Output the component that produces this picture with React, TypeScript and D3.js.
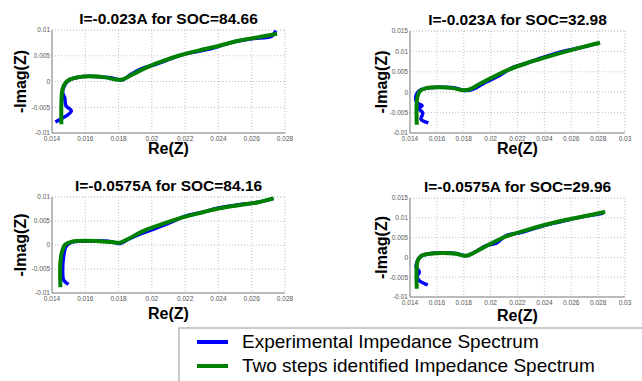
import { useEffect, useRef } from "react";
import * as d3 from "d3";

// Nyquist data: [Re(Z), -Imag(Z)]
const exp1 = [
  [0.0143, -0.0077], [0.01516, -0.0057], [0.01484, -0.0047], [0.01476, -0.0031], [0.01464, -0.0021],
  [0.0148, -0.0005], [0.0151, 0.0004], [0.0156, 0.00085], [0.0162, 0.001], [0.017, 0.00085],
  [0.0176, 0.0007], [0.0182, 0.0003], [0.0188, 0.0015], [0.0194, 0.0025], [0.0202, 0.0033],
  [0.0212, 0.0045], [0.0222, 0.0055], [0.0236, 0.0064], [0.0248, 0.0076], [0.026, 0.0083],
  [0.0272, 0.0088], [0.0274, 0.0096],
];
const fit1 = [
  [0.01456, -0.0079], [0.0146, -0.0021], [0.0147, -0.0008], [0.015, 0.0003], [0.0156, 0.00085],
  [0.0164, 0.001], [0.0172, 0.0008], [0.0178, 0.0004], [0.01824, 0.0004], [0.0188, 0.0013],
  [0.0196, 0.0026], [0.0206, 0.0039], [0.0216, 0.005], [0.0228, 0.006], [0.024, 0.0069],
  [0.0252, 0.0079], [0.0264, 0.0086], [0.0274, 0.0092],
];
const exp2 = [
  [0.01524, -0.0074], [0.01482, -0.0066], [0.01495, -0.0051], [0.01465, -0.0039], [0.0149, -0.0033],
  [0.0145, -0.0025], [0.01445, -0.0008], [0.0147, 0.0004], [0.01544, 0.0011], [0.01644, 0.0012],
  [0.01743, 0.001], [0.01805, 0.0004], [0.01868, 0.0007], [0.01967, 0.0025], [0.02067, 0.0041],
  [0.02166, 0.0061], [0.02266, 0.0071], [0.0239, 0.0085], [0.02514, 0.0098], [0.02664, 0.0109],
  [0.02788, 0.0119],
];
const fit2 = [
  [0.0145, -0.0075], [0.01455, -0.0012], [0.01475, 0.0003], [0.0152, 0.001], [0.01619, 0.0012],
  [0.01718, 0.001], [0.01793, 0.0005], [0.01843, 0.0007], [0.01917, 0.002], [0.02017, 0.0037],
  [0.02141, 0.0056], [0.02266, 0.0071], [0.02415, 0.0086], [0.02564, 0.01], [0.02689, 0.0111],
  [0.028, 0.012],
];
const exp3 = [
  [0.0149, -0.008], [0.0147, -0.0073], [0.01464, -0.0052], [0.0147, -0.0024], [0.01484, -0.0003],
  [0.0152, 0.0006], [0.0158, 0.0008], [0.0166, 0.0008], [0.0174, 0.0008], [0.0181, 0.0003],
  [0.0186, 0.0012], [0.0194, 0.0024], [0.0202, 0.0034], [0.0212, 0.0048], [0.022, 0.006],
  [0.023, 0.0068], [0.024, 0.0077], [0.0252, 0.0084], [0.0264, 0.0089], [0.0272, 0.0096],
];
const fit3 = [
  [0.0145, -0.0084], [0.0145, -0.0038], [0.0146, -0.0014], [0.0148, 0.0001], [0.0152, 0.0007],
  [0.016, 0.0009], [0.0168, 0.0008], [0.0176, 0.0006], [0.0181, 0.0005], [0.0186, 0.0013],
  [0.0194, 0.0028], [0.0204, 0.0041], [0.0216, 0.0055], [0.0228, 0.0066], [0.024, 0.0076],
  [0.0252, 0.0083], [0.0264, 0.0089], [0.0272, 0.0096],
];
const exp4 = [
  [0.0152, -0.0068], [0.0147, -0.0059], [0.0145, -0.0049], [0.0147, -0.0037], [0.01445, -0.0024],
  [0.01457, -0.0008], [0.0148, 0.0003], [0.01544, 0.0009], [0.01644, 0.0012], [0.01743, 0.001],
  [0.01818, 0.0004], [0.01893, 0.0015], [0.01967, 0.003], [0.02042, 0.0036], [0.02116, 0.0055],
  [0.02216, 0.0062], [0.02315, 0.0072], [0.0244, 0.0084], [0.02564, 0.0094], [0.02689, 0.0103],
  [0.02825, 0.0111],
];
const fit4 = [
  [0.0145, -0.0074], [0.0145, -0.0024], [0.0146, -0.0006], [0.0149, 0.0005], [0.01544, 0.0009],
  [0.01644, 0.0011], [0.01743, 0.0009], [0.01818, 0.0004], [0.01893, 0.0015], [0.01992, 0.0033],
  [0.02116, 0.0053], [0.02266, 0.0069], [0.02415, 0.0083], [0.02564, 0.0095], [0.02713, 0.0105],
  [0.02838, 0.0114],
];

const titles = [
  "I=-0.023A for SOC=84.66",
  "I=-0.023A for SOC=32.98",
  "I=-0.0575A for SOC=84.16",
  "I=-0.0575A for SOC=29.96",
];

const xTicksA = [0.014, 0.016, 0.018, 0.02, 0.022, 0.024, 0.026, 0.028];
const xLabelsA = ["0.014", "0.016", "0.018", "0.02", "0.022", "0.024", "0.026", "0.028"];
const xTicksB = [0.014, 0.016, 0.018, 0.02, 0.022, 0.024, 0.026, 0.028, 0.03];
const xLabelsB = ["0.014", "0.016", "0.018", "0.02", "0.022", "0.024", "0.026", "0.028", "0.03"];
const yTicksA = [-0.01, -0.005, 0, 0.005, 0.01];
const yLabelsA = ["-0.01", "-0.005", "0", "0.005", "0.01"];
const yTicksB = [-0.01, -0.005, 0, 0.005, 0.01, 0.015];
const yLabelsB = ["-0.01", "-0.005", "0", "0.005", "0.01", "0.015"];

const legendLabels = ["Experimental Impedance Spectrum", "Two steps identified Impedance Spectrum"];

const BLUE = "#0000ff";
const GREEN = "#008000";
const FONT = "'Liberation Sans', Arial, sans-serif";

const panels = [
  { exp: exp1, fit: fit1, title: titles[0], box: [52, 30, 285, 133], xt: xTicksA, xl: xLabelsA, yt: yTicksA, yl: yLabelsA, ylabX: 20, xlabY: 154 },
  { exp: exp2, fit: fit2, title: titles[1], box: [410, 31, 625, 133], xt: xTicksB, xl: xLabelsB, yt: yTicksB, yl: yLabelsB, ylabX: 381, xlabY: 154 },
  { exp: exp3, fit: fit3, title: titles[2], box: [52, 197, 285, 293], xt: xTicksA, xl: xLabelsA, yt: yTicksA, yl: yLabelsA, ylabX: 20, xlabY: 319 },
  { exp: exp4, fit: fit4, title: titles[3], box: [410, 198, 625, 297], xt: xTicksB, xl: xLabelsB, yt: yTicksB, yl: yLabelsB, ylabX: 381, xlabY: 321 },
];

export default function App() {
  const ref = useRef<SVGSVGElement | null>(null);

  useEffect(() => {
    const svg = d3.select(ref.current);
    svg.selectAll("*").remove();

    svg.append("rect").attr("width", 642).attr("height", 381).attr("fill", "#fff");

    panels.forEach((p) => {
      const [x0, y0, x1, y1] = p.box;
      const x = d3.scaleLinear().domain([p.xt[0], p.xt[p.xt.length - 1]]).range([x0, x1]);
      const y = d3.scaleLinear().domain([p.yt[0], p.yt[p.yt.length - 1]]).range([y1, y0]);
      const g = svg.append("g");

      // dotted grid
      g.selectAll(".gx")
        .data(p.xt.slice(1, -1))
        .enter()
        .append("line")
        .attr("x1", (d) => x(d)).attr("x2", (d) => x(d))
        .attr("y1", y0).attr("y2", y1)
        .attr("stroke", "#b0b0b0").attr("stroke-width", 0.8).attr("stroke-dasharray", "1,2");
      g.selectAll(".gy")
        .data(p.yt.slice(1, -1))
        .enter()
        .append("line")
        .attr("y1", (d) => y(d)).attr("y2", (d) => y(d))
        .attr("x1", x0).attr("x2", x1)
        .attr("stroke", "#b0b0b0").attr("stroke-width", 0.8).attr("stroke-dasharray", "1,2");

      // top/right dotted borders, left/bottom solid
      g.append("line").attr("x1", x0).attr("x2", x1).attr("y1", y0).attr("y2", y0)
        .attr("stroke", "#999").attr("stroke-width", 0.8).attr("stroke-dasharray", "1,2");
      g.append("line").attr("x1", x1).attr("x2", x1).attr("y1", y0).attr("y2", y1)
        .attr("stroke", "#999").attr("stroke-width", 0.8).attr("stroke-dasharray", "1,2");
      g.append("line").attr("x1", x0).attr("x2", x0).attr("y1", y0).attr("y2", y1)
        .attr("stroke", "#777").attr("stroke-width", 1);
      g.append("line").attr("x1", x0).attr("x2", x1).attr("y1", y1).attr("y2", y1)
        .attr("stroke", "#777").attr("stroke-width", 1);

      // tick labels
      g.selectAll(".xl")
        .data(p.xt)
        .enter()
        .append("text")
        .attr("x", (d) => x(d))
        .attr("y", y1 + 7.5)
        .attr("text-anchor", "middle")
        .style("font-family", FONT).style("font-size", "6.5px").style("fill", "#555")
        .text((d, i) => p.xl[i]);
      g.selectAll(".yl")
        .data(p.yt)
        .enter()
        .append("text")
        .attr("x", x0 - 2)
        .attr("y", (d, i) => y(d) + (i === 0 ? 1.5 : 2.3))
        .attr("text-anchor", "end")
        .style("font-family", FONT).style("font-size", "6.5px").style("fill", "#555")
        .text((d, i) => p.yl[i]);

      const line = d3.line<number[]>()
        .x((d) => x(d[0]))
        .y((d) => y(d[1]))
        .curve(d3.curveCatmullRom.alpha(0.5));

      g.append("path").attr("d", line(p.exp as number[][]))
        .attr("fill", "none").attr("stroke", BLUE).attr("stroke-width", 3.5)
        .attr("stroke-linejoin", "round").attr("stroke-linecap", "square");
      g.append("path").attr("d", line(p.fit as number[][]))
        .attr("fill", "none").attr("stroke", GREEN).attr("stroke-width", 4)
        .attr("stroke-linejoin", "round").attr("stroke-linecap", "square");

      const cx = (x0 + x1) / 2;
      g.append("text")
        .attr("x", cx).attr("y", y0 - 6)
        .attr("text-anchor", "middle")
        .style("font-family", FONT).style("font-size", "15.5px").style("font-weight", "bold")
        .text(p.title);

      g.append("text")
        .attr("x", cx).attr("y", p.xlabY)
        .attr("text-anchor", "middle")
        .style("font-family", FONT).style("font-size", "16px").style("font-weight", "bold")
        .text("Re(Z)");

      g.append("text")
        .attr("transform", `translate(${p.ylabX + 6},${(y0 + y1) / 2}) rotate(-90)`)
        .attr("text-anchor", "middle")
        .style("font-family", FONT).style("font-size", "16px").style("font-weight", "bold")
        .text("-Imag(Z)");
    });

    // legend
    const lg = svg.append("g");
    lg.append("rect")
      .attr("x", 179).attr("y", 328).attr("width", 480).attr("height", 70)
      .attr("fill", "#fff").attr("stroke", "#999").attr("stroke-width", 1);
    const colors = [BLUE, GREEN];
    const rows = d3.scaleBand<number>().domain([0, 1]).range([330, 378]);
    legendLabels.forEach((label, i) => {
      const yy = (rows(i) as number) + 12;
      lg.append("line")
        .attr("x1", 197).attr("x2", 228).attr("y1", yy).attr("y2", yy)
        .attr("stroke", colors[i]).attr("stroke-width", 4);
      lg.append("text")
        .attr("x", 242).attr("y", yy + 6)
        .style("font-family", FONT).style("font-size", "19px")
        .text(label);
    });
  }, []);

  return (
    <svg
      ref={ref}
      width={642}
      height={381}
      style={{ position: "absolute", left: 0, top: 0 }}
    />
  );
}
